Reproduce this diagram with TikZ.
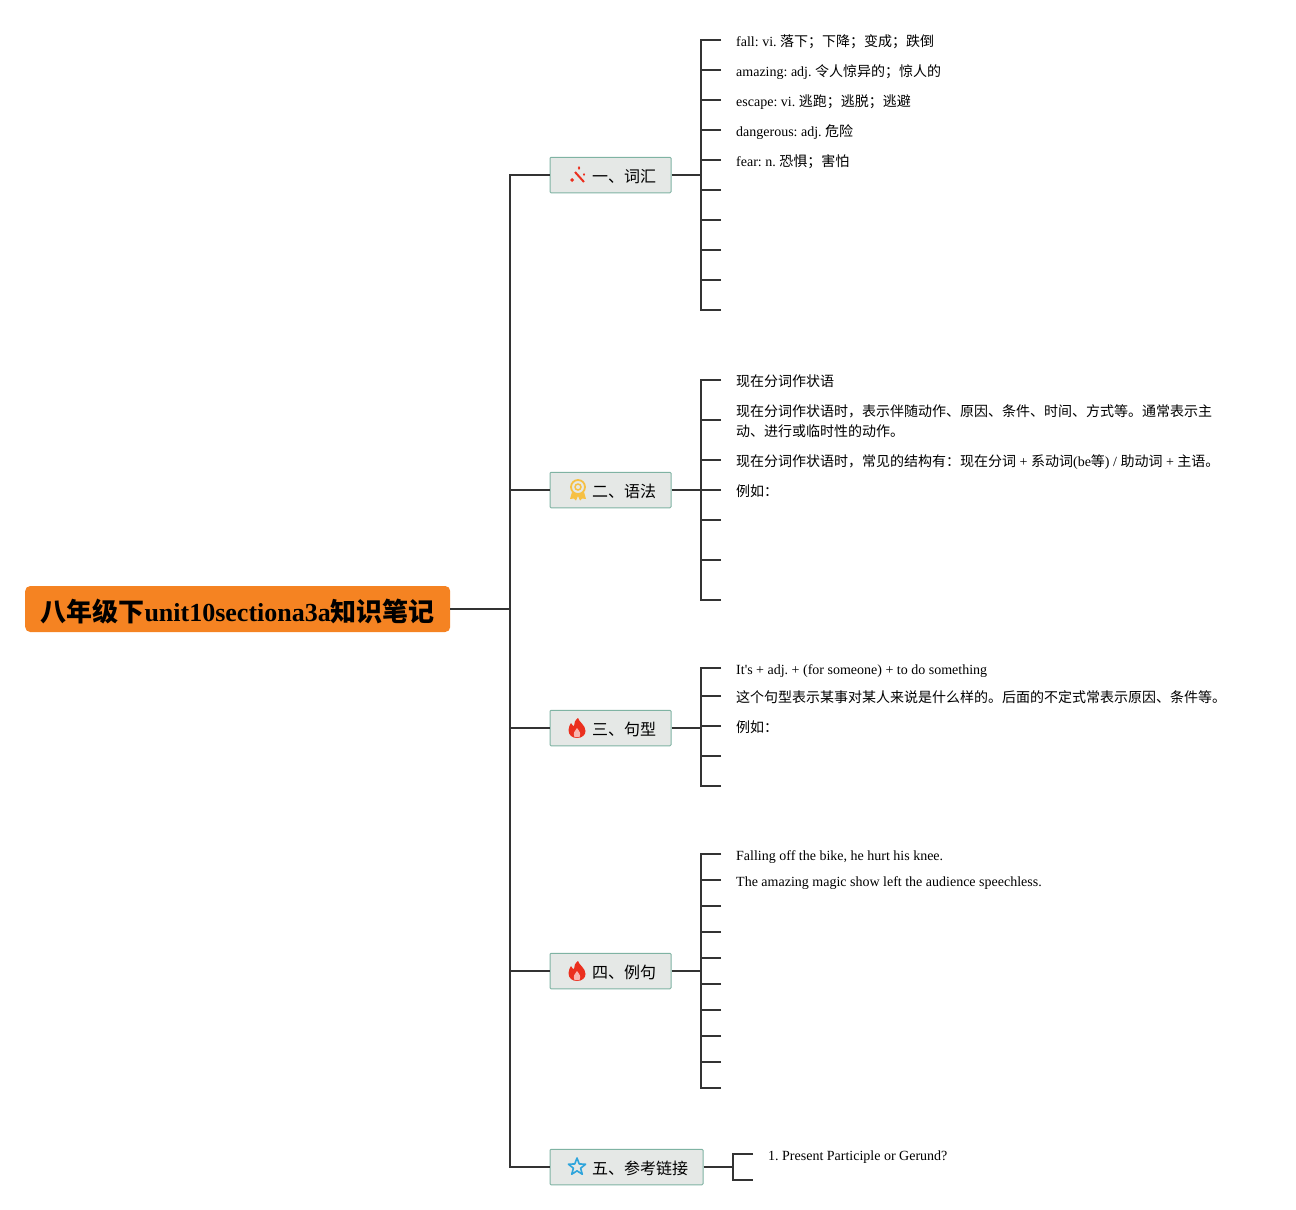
\documentclass[tikz,border=0pt]{standalone}
\usepackage{fontspec}
\setmainfont{Liberation Serif}
\newfontfamily\cjk{Noto Sans CJK SC}
\usetikzlibrary{positioning,calc}
\definecolor{froot}{HTML}{F58322}
\definecolor{fbranch}{HTML}{E5E8E6}
\definecolor{fedge}{HTML}{7FB3A3}
\definecolor{fline}{HTML}{333333}
\definecolor{fred}{HTML}{EB2F1E}
\definecolor{fgold}{HTML}{F6C044}
\definecolor{fblue}{HTML}{2FA5DC}
\tikzset{
  rootbox/.style = {fill=froot, rounded corners=5pt, anchor=west, minimum width=425pt,
                    minimum height=46pt, inner sep=0pt, font=\fontsize{26}{30}\selectfont\bfseries},
  branch/.style  = {draw=fedge, fill=fbranch, line width=1pt, rounded corners=1pt, anchor=west,
                    minimum height=35.5pt, inner xsep=15pt, inner ysep=0pt, text height=14pt, text depth=0pt,
                    font=\fontsize{16}{20}\selectfont\cjk},
  leaf/.style    = {anchor=west, inner sep=0pt, align=left, font=\fontsize{14}{20}\selectfont},
  leafrow/.style = {leaf, text height=12pt, text depth=2pt},
  link/.style    = {draw=fline, line width=2pt},
  wand/.pic      = {
    \draw[fred,line width=2pt] (-2,-3) -- (7,7);
    \fill[fred] (-7,5) -- (-5,3) -- (-3,5) -- (-5,7) -- cycle;
    \fill[fred] (2,-9) -- (3.2,-7) -- (2,-5) -- (0.8,-7) -- cycle;
    \fill[fred] (7,-2) -- (8,-0.5) -- (7,1) -- (6,-0.5) -- cycle;},
  medal/.pic     = {
    \draw[fgold,line width=1.8pt] (0,-3) circle (7pt);
    \draw[fgold,line width=1.5pt] (0,-3) circle (3pt);
    \fill[fgold] (-6,2) -- (-8,9) -- (-4,8.5) -- (-2,10.5) -- (0,6) -- (2,10.5) -- (4,8.5) -- (8,9) -- (6,2) -- (0,5) -- cycle;},
  flame/.pic     = {
    \fill[fred] (1,-10) .. controls (2,-6) and (8.5,-3) .. (8.5,3) .. controls (8.5,7) and (5,10) .. (0,10)
      .. controls (-5,10) and (-8.5,7) .. (-8.5,2) .. controls (-8.5,-1) and (-7,-3) .. (-6,-5)
      .. controls (-5,-3) and (-4,-2) .. (-3,-2) .. controls (-3,-5) and (-2,-8) .. (1,-10) -- cycle;
    \fill[white!65!fred] (0,0) .. controls (2,3) and (4.5,5) .. (2.5,9) -- (-2.5,9) .. controls (-4.5,5) and (-2,3) .. (0,0) -- cycle;},
  staricon/.pic  = {
    \draw[fblue,line width=1.6pt,line join=round] (90:-9) -- (126:-3.8) -- (162:-9) -- (198:-3.8) -- (234:-9)
      -- (270:-3.8) -- (306:-9) -- (342:-3.8) -- (18:-9) -- (54:-3.8) -- cycle;},
}
\begin{document}
\frenchspacing
\begin{tikzpicture}[x=1pt,y=-1pt]
\useasboundingbox (0,0) rectangle (1296,1210);
\node[rootbox] (root) at (25,609) {\hspace*{15pt}\raisebox{-12pt}[0pt][0pt]{{\cjk 八年级下}unit10sectiona3a{\cjk 知识笔记}}\hspace*{15pt}};
\coordinate (trunk) at (510,609);
% branches
\node[branch] (b1) at (549.5,175) {\hspace*{27pt}一、词汇};
\node[branch] (b2) at (549.5,490) {\hspace*{27pt}二、语法};
\node[branch] (b3) at (549.5,728) {\hspace*{27pt}三、句型};
\node[branch] (b4) at (549.5,971) {\hspace*{27pt}四、例句};
\node[branch] (b5) at (549.5,1167) {\hspace*{27pt}五、参考链接};
\pic at (577,175) {wand};
\pic at (578,490) {medal};
\pic at (577,728) {flame};
\pic at (577,971) {flame};
\pic at (577,1167) {staricon};
\draw[link] (root.east) -- (trunk);
\draw[link] (b1.west) -| (trunk) |- (b5.west);
\draw[link] (trunk |- b2.west) -- (b2.west);
\draw[link] (trunk |- b3.west) -- (b3.west);
\draw[link] (trunk |- b4.west) -- (b4.west);
% stubs of each branch
\coordinate (j1) at (701,175);
\coordinate (j2) at (701,490);
\coordinate (j3) at (701,728);
\coordinate (j4) at (701,971);
\coordinate (j5) at (733,1167);
\foreach \b/\i/\y in {1/1/40,1/2/70,1/3/100,1/4/130,1/5/160,1/6/190,1/7/220,1/8/250,1/9/280,1/10/310,
                      2/1/380,2/2/420,2/3/460,2/4/490,2/5/520,2/6/560,2/7/600,
                      3/1/668,3/2/696,3/3/726,3/4/756,3/5/786,
                      4/1/854,4/2/880,4/3/906,4/4/932,4/5/958,4/6/984,4/7/1010,4/8/1036,4/9/1062,4/10/1088}{
  \coordinate (s\b-\i) at (721,\y);
  \draw[link] (s\b-\i) -- (s\b-\i -| j\b);}
\coordinate (s5-1) at (753,1154);
\coordinate (s5-2) at (753,1180);
\foreach \b/\n in {1/10,2/7,3/5,4/10,5/2}{
  \draw[link] (b\b.east) -- (j\b);
  \draw[link] (s\b-1) -| (j\b) |- (s\b-\n);}
% texts
\foreach \n/\y/\lab in {
  w1/41/{fall: vi. {\cjk 落下；下降；变成；跌倒}},
  w2/71/{amazing: adj. {\cjk 令人惊异的；惊人的}},
  w3/101/{escape: vi. {\cjk 逃跑；逃脱；逃避}},
  w4/131/{dangerous: adj. {\cjk 危险}},
  w5/161/{fear: n. {\cjk 恐惧；害怕}},
  g1/381/{\cjk 现在分词作状语},
  g3/461/{{\cjk 现在分词作状语时，常见的结构有：现在分词} + {\cjk 系动词}(be{\cjk 等}) / {\cjk 助动词} + {\cjk 主语。}},
  g4/491/{\cjk 例如：},
  p1/669/{It\textquotesingle s + adj. + (for someone) + to do something},
  p2/697/{\cjk 这个句型表示某事对某人来说是什么样的。后面的不定式常表示原因、条件等。},
  p3/727/{\cjk 例如：},
  e1/855/{Falling off the bike, he hurt his knee.},
  e2/881/{The amazing magic show left the audience speechless.}}{
  \node[leafrow] (\n) at (736,\y) {\lab};}
\node[leaf] (g2) at (736,421) {\cjk 现在分词作状语时，表示伴随动作、原因、条件、时间、方式等。通常表示主\\\cjk 动、进行或临时性的动作。};
\node[leafrow] (r1) at (768,1155) {1. Present Participle or Gerund?};
\end{tikzpicture}
\end{document}
